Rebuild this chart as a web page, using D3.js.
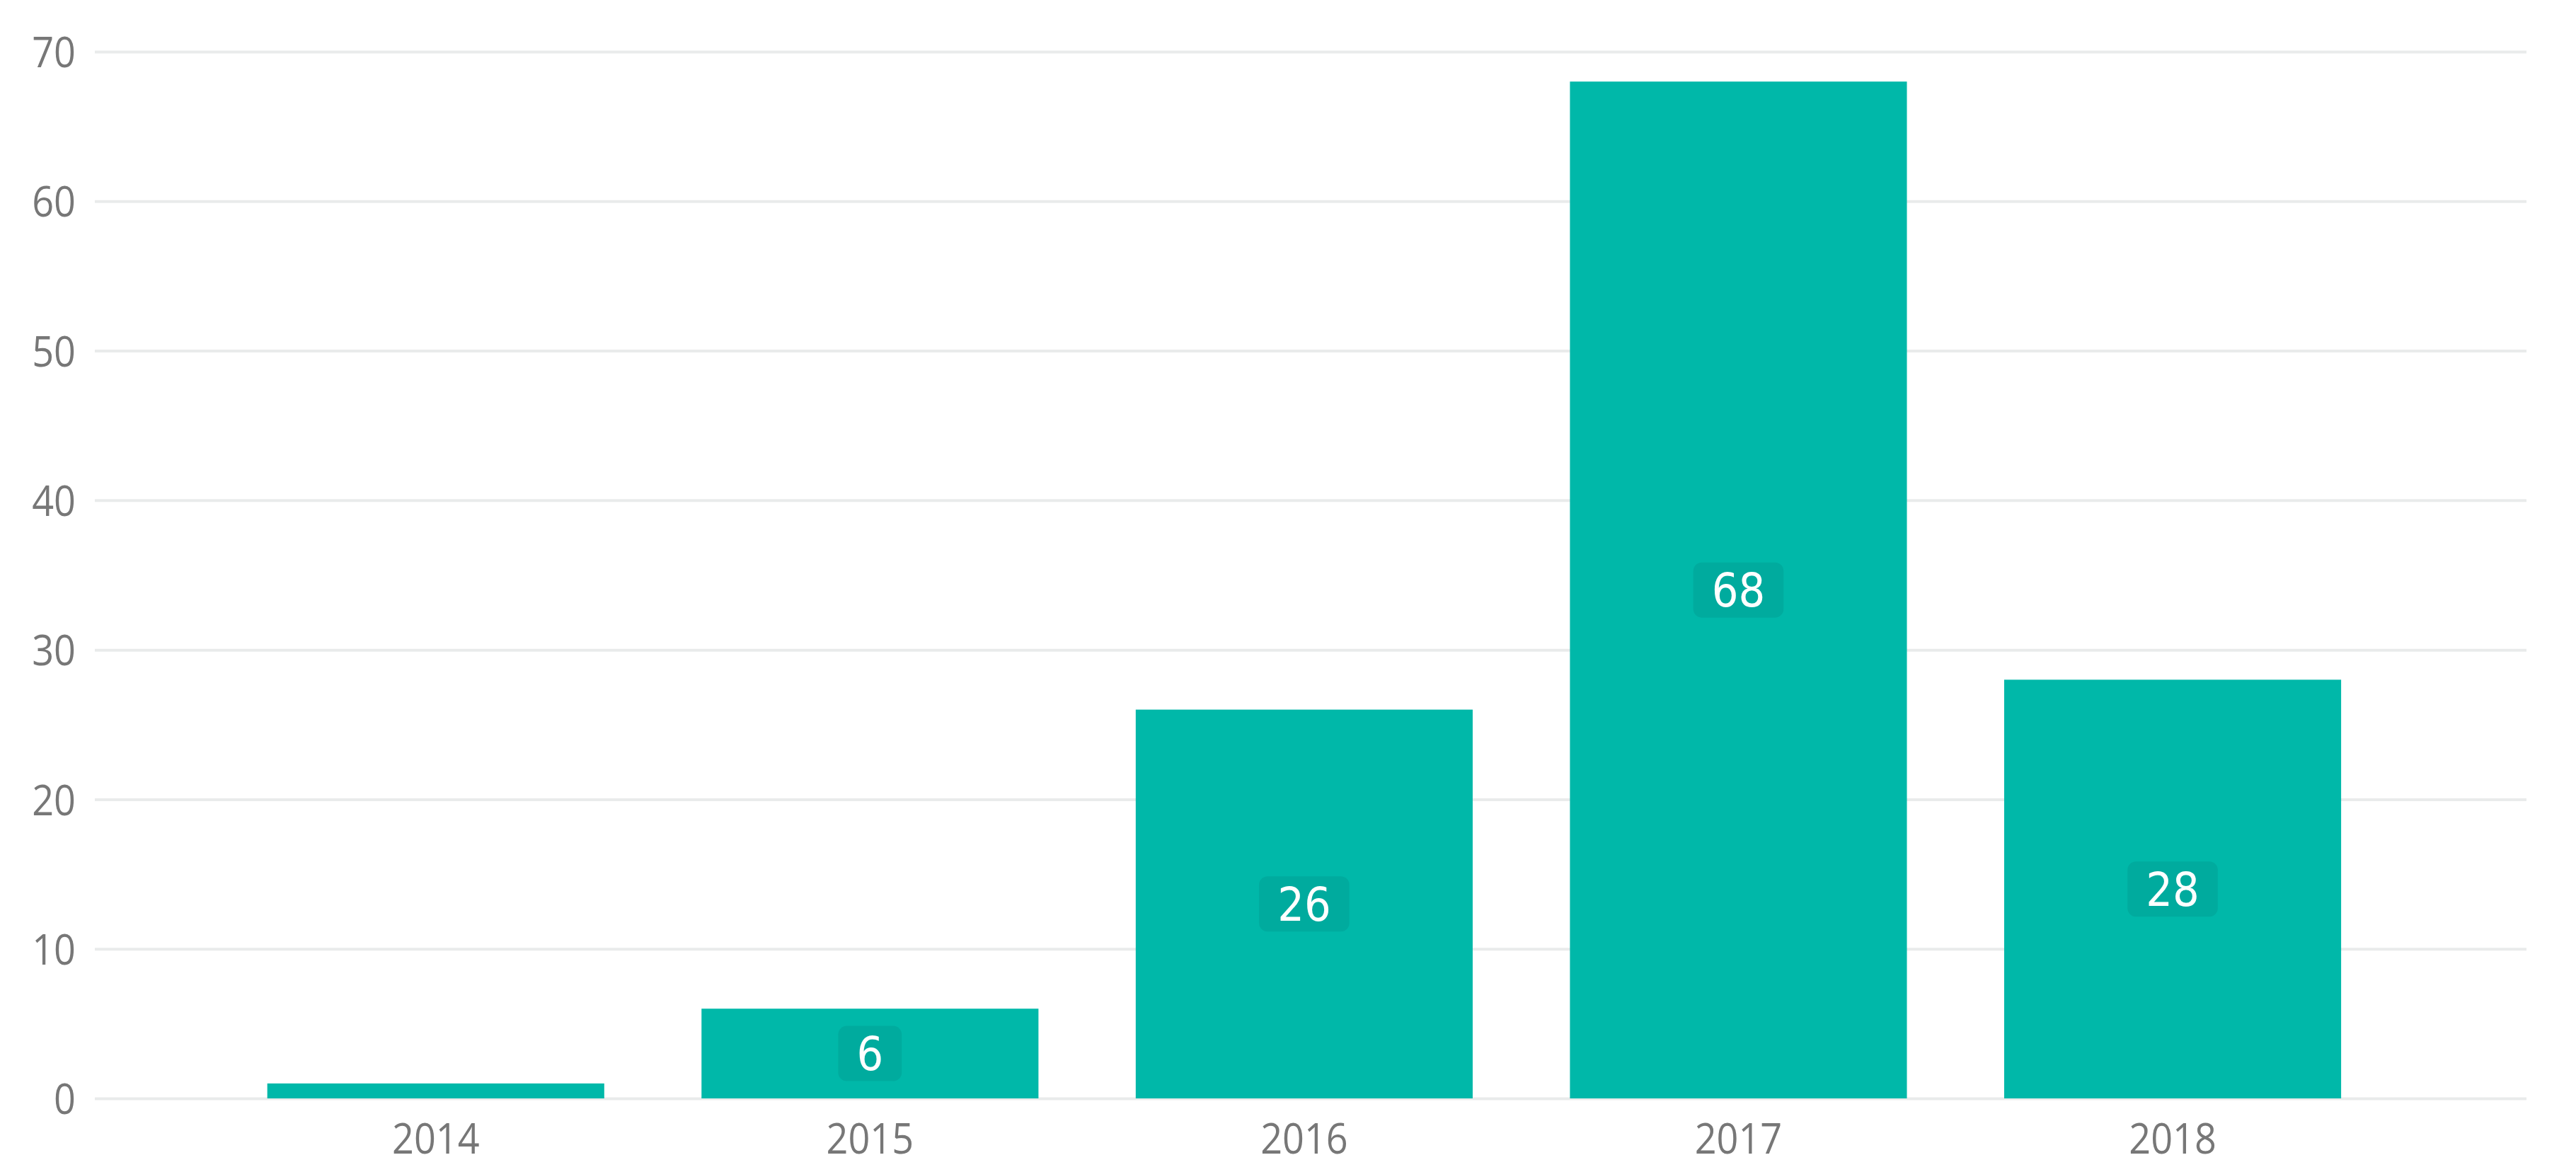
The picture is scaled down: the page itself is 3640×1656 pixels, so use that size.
<!DOCTYPE html>
<html>
<head>
<meta charset="utf-8">
<script src="https://cdn.jsdelivr.net/npm/d3@7"></script>
<style>
  html, body { margin: 0; padding: 0; background: #fff; }
  svg { display: block; }
</style>
</head>
<body>
<div id="container"></div>
<script>
var graphWidth = 3640;
var graphHeight = 1656;

// data
var years = ["2014", "2015", "2016", "2017", "2018"];
var counts = [1, 6, 26, 68, 28];
var yTicks = [0, 10, 20, 30, 40, 50, 60, 70];

var barColor = "#00b8a9";
var boxColor = "#00ab9e";
var gridColor = "#e9ebeb";
var textColor = "#777777";
var axisFont = "'Open Sans', 'Liberation Sans', sans-serif";

const SVG = d3.select("#container")
              .append("svg")
              .attr("width", graphWidth)
              .attr("height", graphHeight);

const x = d3.scaleBand()
            .domain(years)
            .range([134, 3570])
            .paddingInner(0.224)
            .paddingOuter(0.412)
            .align(0.482);

const y = d3.scaleLinear()
            .domain([0, 70])
            .range([1552, 73]);

// the reference digits are narrower than any installed face: squeeze them a bit
function narrow(sel, k) {
  sel.each(function() {
    const L = this.getComputedTextLength();
    d3.select(this).attr("textLength", L * k).attr("lengthAdjust", "spacingAndGlyphs");
  });
}

// gridlines + y labels
const yAxis = d3.axisLeft(y)
                .tickValues(yTicks)
                .tickSize(-(3570 - 134))
                .tickPadding(27);

const gY = SVG.append("g")
              .attr("transform", "translate(134,0)")
              .call(yAxis);
gY.select(".domain").remove();
gY.selectAll(".tick line")
  .attr("stroke", gridColor)
  .attr("stroke-width", 4);
gY.selectAll(".tick text")
  .attr("fill", textColor)
  .style("font-family", axisFont)
  .style("font-size", "60px")
  .attr("dy", "0.36em")
  .call(narrow, 0.9);

// bars
const data = years.map((d, i) => ({year: d, value: counts[i]}));

SVG.selectAll(".bar")
   .data(data)
   .enter()
   .append("rect")
   .attr("class", "bar")
   .attr("x", d => x(d.year))
   .attr("y", d => y(d.value))
   .attr("width", x.bandwidth())
   .attr("height", d => y(0) - y(d.value))
   .attr("fill", barColor);

// x labels
const xAxis = d3.axisBottom(x).tickSize(0).tickPadding(0);
const gX = SVG.append("g")
              .attr("transform", "translate(0,1552)")
              .call(xAxis);
gX.select(".domain").remove();
gX.selectAll(".tick text")
  .attr("fill", textColor)
  .attr("y", 78)
  .attr("dy", 0)
  .style("font-family", axisFont)
  .style("font-size", "60px")
  .call(narrow, 0.9);

// value labels in boxes, only where the box fits inside the bar
const LABELS = SVG.selectAll(".label")
                  .data(data.filter(d => y(0) - y(d.value) > 90))
                  .enter()
                  .append("g")
                  .attr("class", "label")
                  .attr("transform", d => `translate(${x(d.year) + x.bandwidth() / 2},${y(d.value / 2)})`);

LABELS.append("text")
      .attr("text-anchor", "middle")
      .attr("dy", "0.36em")
      .attr("fill", "#ffffff")
      .style("font-family", "'DejaVu Sans Condensed', 'DejaVu Sans', sans-serif")
      .style("font-size", "66px")
      .text(d => d.value);

LABELS.each(function() {
  const g = d3.select(this);
  const w = g.select("text").node().getComputedTextLength();
  g.insert("rect", "text")
   .attr("x", -(w / 2 + 26))
   .attr("y", -39)
   .attr("width", w + 52)
   .attr("height", 78)
   .attr("rx", 12)
   .attr("fill", boxColor);
});
</script>
</body>
</html>
